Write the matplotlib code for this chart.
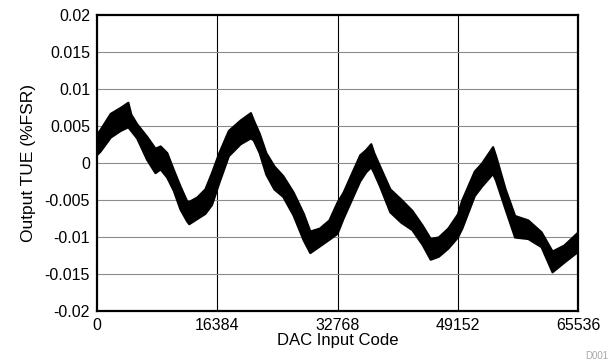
import numpy as np
import matplotlib.pyplot as plt

plt.rcParams['font.family'] = ['Liberation Sans', 'DejaVu Sans']

# DAC code vs. upper / lower edge of the TUE band (%FSR)
codes = [0, 400, 1800, 3150, 4200, 4600, 5400, 6760, 7900, 8600, 9500,
         10400, 11300, 12200, 12500, 13600, 14700, 15600, 16600, 17900,
         19500, 20900, 21300, 22100, 23000, 24100, 25300, 26700, 28100,
         29000, 30300, 31600, 32700, 33500, 35300, 35800, 36600, 37300,
         37700, 38500, 39900, 41400, 42900, 44300, 45400, 46500, 47800,
         49100, 49700, 51400, 52400, 53900, 54300, 55600, 56900, 58700,
         60500, 62000, 63600, 65536]
tue_upper = [0.0040, 0.0045, 0.0067, 0.0075, 0.0082, 0.0066, 0.0053, 0.0036,
             0.0020, 0.0023, 0.0014, -0.0009, -0.0031, -0.0051, -0.0052,
             -0.0046, -0.0035, -0.0013, 0.0014, 0.0044, 0.0058, 0.0068,
             0.0058, 0.0040, 0.0014, -0.0004, -0.0017, -0.0039, -0.0068,
             -0.0092, -0.0088, -0.0077, -0.0053, -0.0040, 0.0000, 0.0011,
             0.0018, 0.0026, 0.0014, -0.0004, -0.0035, -0.0049, -0.0064,
             -0.0084, -0.0102, -0.0100, -0.0088, -0.0069, -0.0050, -0.0011,
             0.0000, 0.0022, 0.0010, -0.0035, -0.0071, -0.0077, -0.0093,
             -0.0119, -0.0111, -0.0093]
tue_lower = [0.0012, 0.0016, 0.0035, 0.0044, 0.0049, 0.0044, 0.0034, 0.0005,
             -0.0013, -0.0008, -0.0019, -0.0037, -0.0062, -0.0078, -0.0082,
             -0.0075, -0.0068, -0.0056, -0.0026, 0.0010, 0.0026, 0.0034,
             0.0031, 0.0014, -0.0015, -0.0035, -0.0045, -0.0070, -0.0104,
             -0.0121, -0.0112, -0.0103, -0.0095, -0.0075, -0.0035, -0.0024,
             -0.0012, -0.0005, -0.0013, -0.0031, -0.0066, -0.0080, -0.0090,
             -0.0110, -0.0130, -0.0126, -0.0115, -0.0100, -0.0088, -0.0044,
             -0.0031, -0.0014, -0.0023, -0.0062, -0.0100, -0.0102, -0.0113,
             -0.0147, -0.0134, -0.0119]

xticks = [0, 16384, 32768, 49152, 65536]
yticks = [-0.02, -0.015, -0.01, -0.005, 0, 0.005, 0.01, 0.015, 0.02]
ytick_labels = ['-0.02', '-0.015', '-0.01', '-0.005', '0', '0.005', '0.01', '0.015', '0.02']

fig = plt.figure(figsize=(6.11, 3.64), dpi=100)
ax = fig.add_axes([0.1588, 0.1456, 0.7872, 0.8132])

ax.fill_between(codes, tue_lower, tue_upper, facecolor='black',
                edgecolor='black', lw=1.6, zorder=3)

ax.set_xlim(0, 65536)
ax.set_ylim(-0.02, 0.02)
ax.set_xticks(xticks)
ax.set_xticklabels([str(t) for t in xticks])
ax.set_yticks(yticks)
ax.set_yticklabels(ytick_labels)
ax.tick_params(length=0, labelsize=11.5, pad=5)

for t in xticks[1:-1]:
    ax.axvline(t, color='black', lw=0.8, zorder=1)
for t in yticks[1:-1]:
    ax.axhline(t, color='#8c8c8c', lw=0.8, zorder=1)

for s in ax.spines.values():
    s.set_linewidth(1.6)
    s.set_color('black')
    s.set_zorder(4)

ax.set_xlabel('DAC Input Code', fontsize=12, labelpad=0)
ax.set_ylabel('Output TUE (%FSR)', fontsize=12.5, labelpad=6)
fig.text(0.995, 0.008, 'D001', fontsize=7, color='#a8a8a8', ha='right', va='bottom')

plt.savefig('out.png', dpi=100)
plt.close()
